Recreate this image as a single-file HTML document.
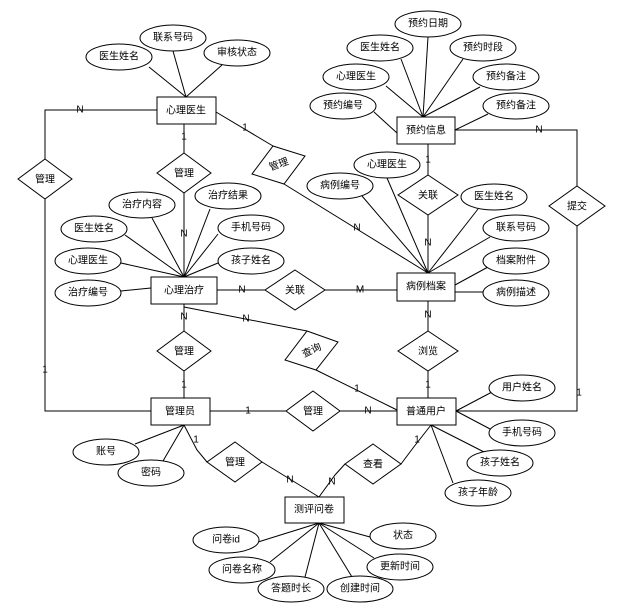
<!DOCTYPE html>
<html><head><meta charset="utf-8"><style>
html,body{margin:0;padding:0;background:#fff;}
svg text{font-family:"Liberation Sans","Noto Sans CJK SC",sans-serif;font-size:10px;fill:#000;}
</style></head><body>
<svg width="625" height="609" viewBox="0 0 625 609" xmlns="http://www.w3.org/2000/svg">
<g stroke="#000" stroke-width="1" fill="none">
<!-- 心理医生 attrs -->
<line x1="186" y1="97" x2="149" y2="67"/><line x1="186" y1="97" x2="173" y2="51"/><line x1="186" y1="97" x2="222" y2="65"/>
<!-- left loop -->
<polyline points="157,110 45,110 45,159"/><polyline points="45,199 45,411 151,411"/>
<!-- 心理医生 - 管理 - 心理治疗 -->
<line x1="184" y1="124" x2="184" y2="153"/><line x1="184" y1="193" x2="184" y2="277"/>
<!-- 管理 rotated top -->
<line x1="216" y1="112" x2="273" y2="146"/><line x1="284" y1="184" x2="428" y2="273"/>
<polygon points="273,146 305,156 284,184 252,174" fill="#fff"/>
<!-- 心理治疗 attrs -->
<line x1="184" y1="277" x2="152" y2="218"/><line x1="184" y1="277" x2="210" y2="209"/><line x1="184" y1="277" x2="125" y2="235"/>
<line x1="184" y1="277" x2="218" y2="234"/><line x1="184" y1="277" x2="121" y2="263"/><line x1="184" y1="277" x2="218" y2="263"/>
<line x1="151" y1="288" x2="121" y2="291"/>
<!-- 关联 horizontal -->
<line x1="217" y1="290" x2="265" y2="290"/><line x1="325" y1="290" x2="397" y2="290"/>
<!-- 预约信息 attrs -->
<line x1="423" y1="117" x2="428" y2="37"/><line x1="423" y1="117" x2="401" y2="59"/><line x1="423" y1="117" x2="463" y2="59"/>
<line x1="423" y1="117" x2="386" y2="86"/><line x1="423" y1="117" x2="480" y2="87"/><line x1="397" y1="133" x2="374" y2="112"/>
<line x1="455" y1="130" x2="488" y2="114"/>
<!-- 预约信息 right loop -->
<polyline points="455,130 577,130 577,186"/><polyline points="577,226 577,411 456,411"/>
<!-- 关联 vertical -->
<line x1="428" y1="144" x2="428" y2="175"/><line x1="428" y1="215" x2="428" y2="273"/>
<!-- 病例档案 attrs -->
<line x1="428" y1="273" x2="387" y2="178"/><line x1="428" y1="273" x2="362" y2="196"/><line x1="428" y1="273" x2="478" y2="209"/>
<line x1="428" y1="273" x2="490" y2="237"/><line x1="455" y1="285" x2="488" y2="267"/><line x1="455" y1="292" x2="486" y2="292"/>
<!-- 病例档案 - 浏览 - 用户 -->
<line x1="428" y1="301" x2="428" y2="331"/><line x1="428" y1="371" x2="428" y2="398"/>
<!-- 心理治疗 - 管理 - 管理员 -->
<line x1="184" y1="304" x2="184" y2="331"/><line x1="184" y1="371" x2="184" y2="398"/>
<!-- 查询 -->
<line x1="184" y1="307" x2="307" y2="331"/><line x1="316" y1="370" x2="397" y2="410"/>
<polygon points="307,331 338,342 316,370 285,360" fill="#fff"/>
<!-- 管理员 - 管理 - 用户 -->
<line x1="210" y1="411" x2="286" y2="411"/><line x1="340" y1="411" x2="397" y2="411"/>
<!-- 管理员 attrs -->
<line x1="184" y1="425" x2="135" y2="444"/><line x1="184" y1="425" x2="163" y2="461"/>
<!-- 管理 lower -->
<polyline points="184,425 197,450 207,462"/><line x1="262" y1="462" x2="319" y2="497"/>
<!-- 查看 -->
<polyline points="319,497 335,475 345,464"/><polyline points="401,464 413,448 431,425"/>
<!-- 用户 attrs -->
<line x1="456" y1="411" x2="492" y2="392"/><line x1="456" y1="411" x2="492" y2="430"/><line x1="431" y1="425" x2="486" y2="453"/><line x1="431" y1="425" x2="453" y2="483"/>
<!-- 测评问卷 attrs -->
<line x1="319" y1="523" x2="258" y2="542"/><line x1="319" y1="523" x2="370" y2="537"/><line x1="319" y1="523" x2="270" y2="562"/>
<line x1="319" y1="523" x2="374" y2="558"/><line x1="319" y1="523" x2="305" y2="577"/><line x1="319" y1="523" x2="352" y2="577"/>
</g>
<g stroke="#000" stroke-width="1" fill="#fff">
<!-- diamonds -->
<polygon points="45,159 72,179 45,199 18,179"/>
<polygon points="184,153 211,173 184,193 157,173"/>
<polygon points="295,270 325,290 295,310 265,290"/>
<polygon points="428,175 458,195 428,215 398,195"/>
<polygon points="577,186 605,206 577,226 549,206"/>
<polygon points="184,331 211,351 184,371 157,351"/>
<polygon points="428,331 458,351 428,371 398,351"/>
<polygon points="313,391 340,411 313,431 286,411"/>
<polygon points="235,442 262,462 235,482 207,462"/>
<polygon points="373,444 401,464 373,484 345,464"/>
<!-- entities -->
<rect x="157" y="97" width="59" height="27"/>
<rect x="151" y="277" width="66" height="27"/>
<rect x="397" y="117" width="58" height="27"/>
<rect x="397" y="273" width="58" height="28"/>
<rect x="151" y="398" width="59" height="27"/>
<rect x="397" y="398" width="59" height="27"/>
<rect x="285" y="497" width="59" height="26"/>
<!-- ellipses -->
<ellipse cx="119" cy="57" rx="33" ry="13"/><ellipse cx="173" cy="38" rx="33" ry="13"/><ellipse cx="237" cy="53" rx="33" ry="13"/>
<ellipse cx="142" cy="205" rx="33" ry="13"/><ellipse cx="228" cy="196" rx="33" ry="13"/><ellipse cx="94" cy="229" rx="33" ry="13"/>
<ellipse cx="251" cy="228" rx="33" ry="13"/><ellipse cx="88" cy="261" rx="33" ry="13"/><ellipse cx="251" cy="261" rx="33" ry="13"/>
<ellipse cx="88" cy="293" rx="33" ry="13"/>
<ellipse cx="428" cy="24" rx="33" ry="13"/><ellipse cx="380" cy="48" rx="33" ry="13"/><ellipse cx="483" cy="48" rx="33" ry="13"/>
<ellipse cx="356" cy="77" rx="33" ry="13"/><ellipse cx="506" cy="77" rx="33" ry="13"/><ellipse cx="343" cy="106" rx="33" ry="13"/>
<ellipse cx="516" cy="106" rx="33" ry="13"/>
<ellipse cx="387" cy="165" rx="33" ry="13"/><ellipse cx="340" cy="186" rx="33" ry="13"/><ellipse cx="494" cy="197" rx="33" ry="13"/>
<ellipse cx="516" cy="228" rx="33" ry="13"/><ellipse cx="516" cy="261" rx="33" ry="13"/><ellipse cx="516" cy="293" rx="33" ry="13"/>
<ellipse cx="106" cy="452" rx="33" ry="13"/><ellipse cx="151" cy="473" rx="33" ry="13"/>
<ellipse cx="522" cy="388" rx="33" ry="13"/><ellipse cx="522" cy="433" rx="33" ry="13"/><ellipse cx="500" cy="463" rx="33" ry="13"/><ellipse cx="478" cy="493" rx="33" ry="13"/>
<ellipse cx="226" cy="540" rx="33" ry="13"/><ellipse cx="403" cy="536" rx="33" ry="13"/><ellipse cx="242" cy="570" rx="33" ry="13"/>
<ellipse cx="400" cy="567" rx="33" ry="13"/><ellipse cx="291" cy="589" rx="33" ry="13"/><ellipse cx="360" cy="589" rx="33" ry="13"/>
</g>
<g text-anchor="middle" dominant-baseline="central">
<text x="186" y="111">心理医生</text><text x="184" y="291">心理治疗</text><text x="426" y="131">预约信息</text>
<text x="426" y="287">病例档案</text><text x="180" y="412">管理员</text><text x="426" y="412">普通用户</text><text x="314" y="510">测评问卷</text>
<text x="45" y="180">管理</text><text x="184" y="174">管理</text><text x="295" y="291">关联</text><text x="428" y="196">关联</text>
<text x="577" y="207">提交</text><text x="184" y="352">管理</text><text x="428" y="352">浏览</text><text x="313" y="412">管理</text>
<text x="235" y="463">管理</text><text x="373" y="465">查看</text>
<text x="279" y="165" transform="rotate(-20 279 165)" fill="#555">管理</text>
<text x="312" y="351" transform="rotate(-25 312 351)" fill="#555">查询</text>
<text x="119" y="57">医生姓名</text><text x="173" y="38">联系号码</text><text x="237" y="53">审核状态</text>
<text x="142" y="205">治疗内容</text><text x="228" y="196">治疗结果</text><text x="94" y="229">医生姓名</text>
<text x="251" y="228">手机号码</text><text x="88" y="261">心理医生</text><text x="251" y="261">孩子姓名</text><text x="88" y="293">治疗编号</text>
<text x="428" y="24">预约日期</text><text x="380" y="48">医生姓名</text><text x="483" y="48">预约时段</text>
<text x="356" y="77">心理医生</text><text x="506" y="77">预约备注</text><text x="343" y="106">预约编号</text><text x="516" y="106">预约备注</text>
<text x="387" y="165">心理医生</text><text x="340" y="186">病例编号</text><text x="494" y="197">医生姓名</text>
<text x="516" y="228">联系号码</text><text x="516" y="261">档案附件</text><text x="516" y="293">病例描述</text>
<text x="106" y="452">账号</text><text x="151" y="473">密码</text>
<text x="522" y="388">用户姓名</text><text x="522" y="433">手机号码</text><text x="500" y="463">孩子姓名</text><text x="478" y="493">孩子年龄</text>
<text x="226" y="540">问卷id</text><text x="403" y="536">状态</text><text x="242" y="570">问卷名称</text>
<text x="400" y="567">更新时间</text><text x="291" y="589">答题时长</text><text x="360" y="589">创建时间</text>
</g>
<g text-anchor="middle" dominant-baseline="central" style="font-size:8px">
<text x="80" y="110">N</text><text x="184" y="137">1</text><text x="184" y="234">N</text><text x="245" y="128">1</text>
<text x="242" y="290">N</text><text x="360" y="290">M</text><text x="357" y="228">N</text>
<text x="428" y="160">1</text><text x="428" y="243">N</text><text x="539" y="130">N</text>
<text x="428" y="315">N</text><text x="428" y="385">1</text><text x="184" y="317">N</text><text x="184" y="385">1</text>
<text x="246" y="319">N</text><text x="357" y="389">1</text>
<text x="45" y="370">1</text><text x="579" y="393">1</text><text x="248" y="411">1</text><text x="368" y="411">N</text>
<text x="196" y="440">1</text><text x="290" y="480">N</text><text x="332" y="482">N</text><text x="417" y="440">1</text>
</g>
</svg>
</body></html>
